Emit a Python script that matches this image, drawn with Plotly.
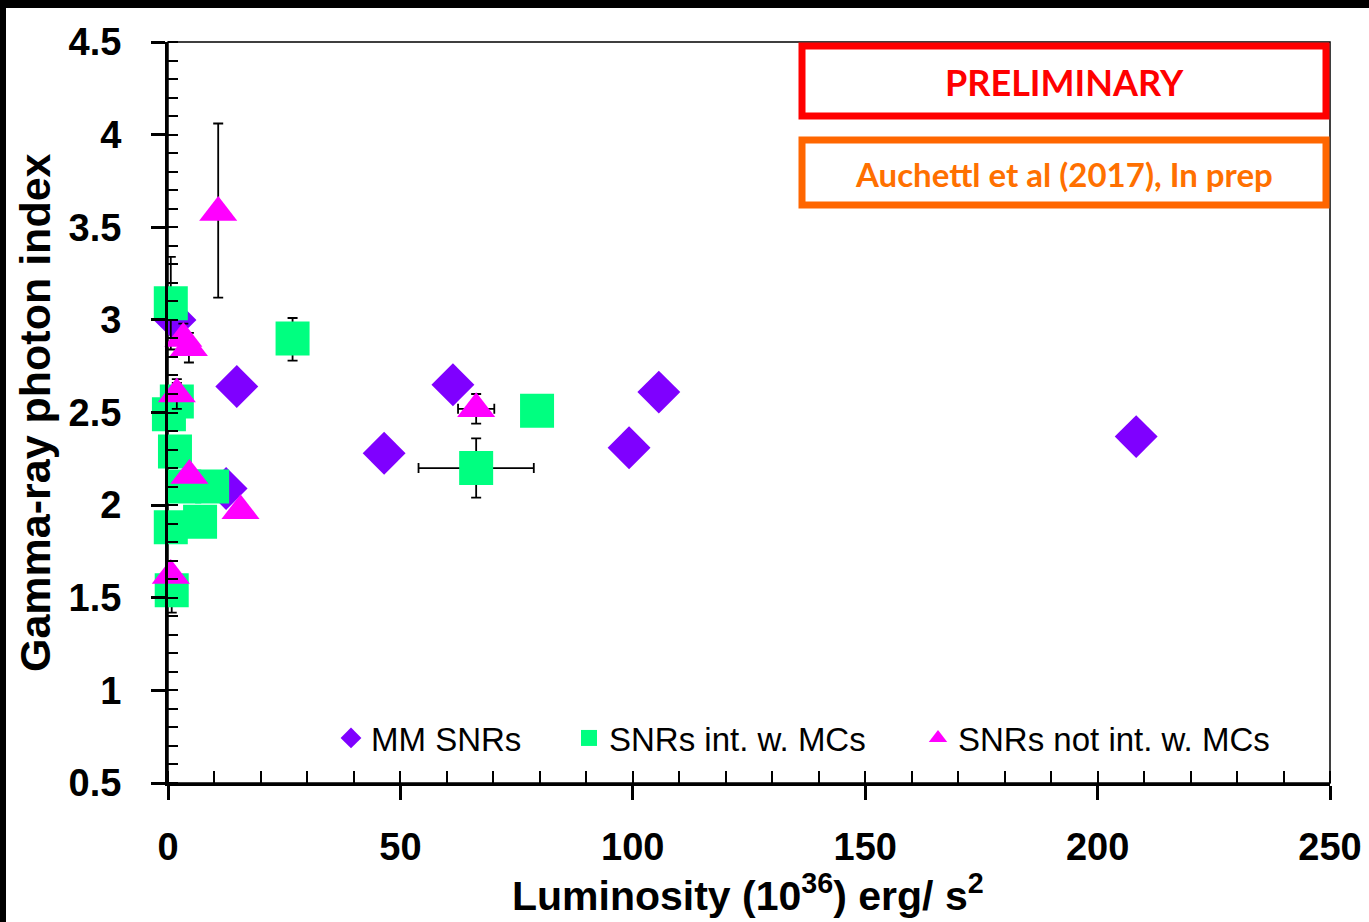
import plotly.graph_objects as go

# ---- data ----
mm_x = [208.3, 105.6, 99.2, 61.3, 46.5, 14.8, 12.5, 1.5]
mm_y = [2.37, 2.61, 2.31, 2.65, 2.28, 2.64, 2.09, 3.00]

mc_x = [79.4, 66.3, 26.8, 0.6, 1.9, 0.2, 1.5, 3.5, 9.5, 6.9, 0.6, 0.8]
mc_y = [2.51, 2.20, 2.90, 3.09, 2.56, 2.49, 2.29, 2.10, 2.10, 1.91, 1.88, 1.54]
mc_ey_plus = [None, 0.16, 0.11, 0.25, 0.10, None, 0.08, None, None, None, 0.08, 0.10]
mc_ey_minus = [None, 0.16, 0.12, 0.25, 0.10, None, 0.08, None, None, None, 0.08, 0.12]
mc_ex = [None, 12.4, None, None, None, None, None, None, None, None, None, None]

nmc_x = [10.8, 3.3, 4.5, 1.9, 4.6, 15.6, 0.6, 66.3]
nmc_y = [3.58, 2.90, 2.85, 2.60, 2.16, 1.97, 1.62, 2.52]
nmc_ey_plus = [0.48, 0.08, 0.08, 0.08, None, None, None, 0.08]
nmc_ey_minus = [0.46, 0.08, 0.08, 0.08, None, None, None, 0.08]
nmc_ex = [None, None, None, None, None, None, None, 3.9]

names = ["MM SNRs", "SNRs int. w. MCs", "SNRs not int. w. MCs"]
x_title = "Luminosity (10<sup>36</sup>) erg/ s<sup>2</sup>"
y_title = "Gamma-ray photon index"
note1 = "PRELIMINARY"
note2 = "Auchettl et al (2017), In prep"

PURPLE = "#7F00FF"
GREEN = "#00FF80"
MAGENTA = "#FF00FF"

W, H = 1369, 922
ML, MR, MT, MB = 168, 39, 42, 139
PW, PH = W - ML - MR, H - MT - MB


def px_x(p):
    return (p - ML) / PW


def px_y(p):
    return (H - MB - p) / PH


err_style = dict(color="black", thickness=1.8, width=5)

fig = go.Figure()
fig.add_trace(go.Scatter(
    x=mm_x, y=mm_y, mode="markers", name=names[0], legend="legend", showlegend=True,
    marker=dict(symbol="diamond", size=33, color=PURPLE, line=dict(width=0)),
    cliponaxis=False,
))
fig.add_trace(go.Scatter(
    x=mc_x, y=mc_y, mode="markers", name=names[1], legend="legend2", showlegend=True,
    marker=dict(symbol="square", size=34, color=GREEN, line=dict(width=0)),
    error_y=dict(type="data", array=mc_ey_plus, arrayminus=mc_ey_minus, **err_style),
    error_x=dict(type="data", array=mc_ex, **err_style),
    cliponaxis=False,
))
fig.add_trace(go.Scatter(
    x=nmc_x, y=nmc_y, mode="markers", name=names[2], legend="legend3", showlegend=True,
    marker=dict(symbol="triangle-up", size=33, color=MAGENTA, line=dict(width=0)),
    error_y=dict(type="data", array=nmc_ey_plus, arrayminus=nmc_ey_minus, **err_style),
    error_x=dict(type="data", array=nmc_ex, **err_style),
    cliponaxis=False,
))

FAM = "Liberation Sans, Arial, sans-serif"
tickfont = dict(family=FAM, size=38, color="black", weight="bold")
ytitlefont = dict(family=FAM, size=43, color="black", weight="bold")
xtitlefont = dict(family=FAM, size=41, color="black", weight="bold")
legfont = dict(family=FAM, size=33, color="black")

leg_common = dict(orientation="h", yanchor="middle", xanchor="left", bgcolor="rgba(0,0,0,0)",
                  font=legfont, itemwidth=30, borderwidth=0)

fig.update_layout(
    width=W, height=H,
    margin=dict(l=ML, r=MR, t=MT, b=MB, autoexpand=False),
    paper_bgcolor="white", plot_bgcolor="white",
    showlegend=True,
    legend=dict(x=px_x(331), y=px_y(738), **leg_common),
    legend2=dict(x=px_x(569), y=px_y(738), **leg_common),
    legend3=dict(x=px_x(918), y=px_y(738), **leg_common),
    xaxis=dict(
        range=[0, 250], dtick=50, tick0=0, automargin=False,
        showgrid=False, zeroline=False,
        showline=True, linecolor="black", linewidth=3,
        ticks="outside", ticklen=14, tickwidth=2.5, tickcolor="black",
        minor=dict(dtick=10, ticks="inside", ticklen=12, tickwidth=2, tickcolor="black"),
        tickfont=tickfont, ticklabelstandoff=14,
    ),
    yaxis=dict(
        range=[0.5, 4.5], dtick=0.5, tick0=0.5, automargin=False,
        showgrid=False, zeroline=False,
        showline=True, linecolor="black", linewidth=3,
        ticks="outside", ticklen=14, tickwidth=2.5, tickcolor="black",
        minor=dict(dtick=0.1, ticks="inside", ticklen=10, tickwidth=2, tickcolor="black"),
        tickfont=tickfont, ticklabelstandoff=22,
    ),
    shapes=[
        # thin frame (top/right)
        dict(type="rect", xref="paper", yref="paper", x0=0, x1=1, y0=0, y1=1,
             line=dict(color="black", width=1.5), layer="below"),
        # black page edges
        dict(type="rect", xref="paper", yref="paper", x0=px_x(0), x1=px_x(W), y0=px_y(8), y1=px_y(0),
             fillcolor="black", line=dict(width=0), layer="above"),
        dict(type="rect", xref="paper", yref="paper", x0=px_x(0), x1=px_x(6), y0=px_y(H), y1=px_y(0),
             fillcolor="black", line=dict(width=0), layer="above"),
        # note boxes
        dict(type="rect", xref="paper", yref="paper", x0=px_x(802), x1=px_x(1326), y0=px_y(116), y1=px_y(46),
             fillcolor="white", line=dict(color="#FF0000", width=7), layer="above"),
        dict(type="rect", xref="paper", yref="paper", x0=px_x(802), x1=px_x(1326), y0=px_y(205), y1=px_y(140),
             fillcolor="white", line=dict(color="#FF6600", width=7), layer="above"),
    ],
    annotations=[
        dict(text=y_title, xref="paper", yref="paper", x=px_x(35), y=px_y(413), showarrow=False,
             textangle=-90, xanchor="center", yanchor="middle", font=ytitlefont),
        dict(text=x_title, xref="paper", yref="paper", x=px_x(748), y=px_y(921), showarrow=False,
             xanchor="center", yanchor="bottom", font=xtitlefont),
        dict(text=note1, xref="paper", yref="paper", x=px_x(1064), y=px_y(82), showarrow=False,
             xanchor="center", yanchor="middle",
             font=dict(family="Lato, Open Sans, sans-serif", size=36, color="#FF0000", weight="bold")),
        dict(text=note2, xref="paper", yref="paper", x=px_x(1064), y=px_y(174), showarrow=False,
             xanchor="center", yanchor="middle",
             font=dict(family="Lato, Open Sans, sans-serif", size=33, color="#FF7000", weight="bold")),
    ],
)

fig.write_html("out.html")
